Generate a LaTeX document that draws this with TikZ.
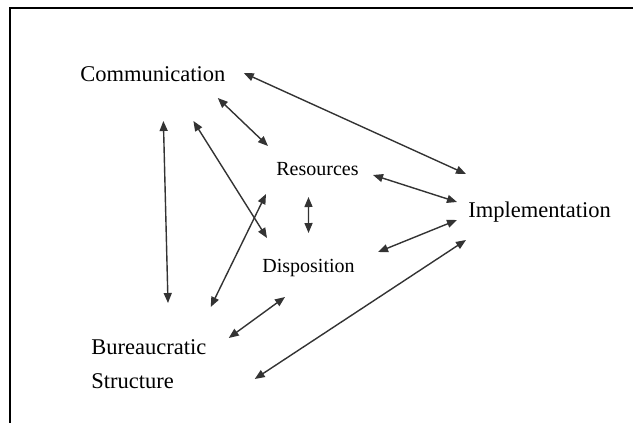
\documentclass[tikz,border=0pt]{standalone}
\usepackage{fontspec}
\setmainfont{Liberation Serif}
\usetikzlibrary{arrows.meta}

\begin{document}
\begin{tikzpicture}[x=0.5pt,y=-0.5pt,<->,>={Triangle[length=5pt,width=4pt]},
            link/.style={draw=black!80,line width=0.7pt},
            big/.style={inner sep=0pt,font=\fontsize{11.25}{17}\selectfont},
            small/.style={inner sep=0pt,font=\fontsize{10}{12}\selectfont}]

          \useasboundingbox (0,0) rectangle (633,423);
          \draw[-,line width=1pt] (10,423) -- (10,8) -- (633,8);

          \node[big,anchor=base west]              (comm) at ( 80,  82) {Communication};
          \node[small,anchor=base west]            (res)  at (276, 175) {Resources};
          \node[small,anchor=base west]            (disp) at (262, 272) {Disposition};
          \node[big,anchor=base west]              (impl) at (468, 217) {Implementation};
          \node[big,anchor=north west,align=left]  (bur)  at ( 91, 339) {Bureaucratic\\Structure};

          \path ([shift={(18,-9)}]comm.base east)  edge[link] ([shift={(-2,-43)}]impl.base west)
                ([shift={(-8,16)}]comm.base east)  edge[link] ([shift={(-8,-29)}]res.base west)
                ([shift={(10.5,39)}]comm.base)     edge[link] ([shift={(77,-36)}]bur.north west)
                ([shift={(40.5,39)}]comm.base)     edge[link] ([shift={(5,-34)}]disp.base west)
                ([shift={(4,-32)}]bur.north east)  edge[link] ([shift={(-10,19)}]res.base west)
                ([shift={(-9,22)}]res.base)        edge[link] ([shift={(0,-39)}]disp.base)
                ([shift={(14,0)}]res.base east)    edge[link] ([shift={(-11,-15)}]impl.base west)
                ([shift={(23,-20)}]disp.base east) edge[link] ([shift={(-11,3)}]impl.base west)
                ([shift={(22,-1)}]bur.north east)  edge[link] ([shift={(23,25)}]disp.base west)
                ([shift={(48,40)}]bur.north east)  edge[link] ([shift={(-2,23)}]impl.base west);
        \end{tikzpicture}
\end{document}
